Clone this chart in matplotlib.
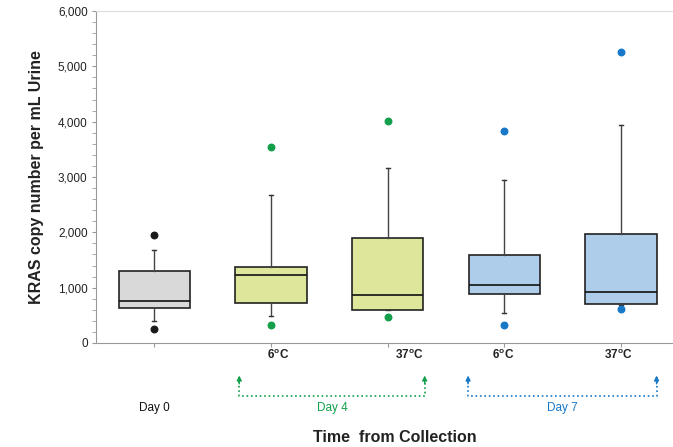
import matplotlib.pyplot as plt
import matplotlib.transforms as mtransforms
from matplotlib.ticker import MultipleLocator, FuncFormatter

plt.rcParams['font.family'] = ['Liberation Sans', 'DejaVu Sans']
plt.rcParams['mathtext.fontset'] = 'custom'
plt.rcParams['mathtext.rm'] = 'Liberation Sans'
plt.rcParams['mathtext.bf'] = 'Liberation Sans:bold'

# box statistics
groups = ['Day 0', 'Day 4 6C', 'Day 4 37C', 'Day 7 6C', 'Day 7 37C']
whislo = [403, 482, 600, 548, 680]
q1 = [638, 728, 602, 880, 711]
med = [765, 1223, 873, 1048, 922]
q3 = [1307, 1379, 1903, 1596, 1964]
whishi = [1680, 2675, 3168, 2940, 3940]
fliers = [[1946, 253], [3542, 320], [4012, 476], [3831, 331], [5259, 609]]
tick_labels = ['', r'6$^{\mathbf{o}}$C', r'37$^{\mathbf{o}}$C', r'6$^{\mathbf{o}}$C', r'37$^{\mathbf{o}}$C']
box_colors = ['#d9d9d9', '#dde69b', '#dde69b', '#aecdeb', '#aecdeb']
dot_colors = ['#1a1a1a', '#14a04a', '#14a04a', '#1878c8', '#1878c8']

fig = plt.figure(figsize=(6.73, 4.47), dpi=100)
ax = fig.add_axes([0.1426, 0.2327, 0.86, 0.7427])

stats = []
for i in range(len(groups)):
    stats.append(dict(label=groups[i], whislo=whislo[i], q1=q1[i], med=med[i],
                      q3=q3[i], whishi=whishi[i], fliers=fliers[i]))

pos = list(range(1, len(groups) + 1))
b = ax.bxp(stats, positions=pos, widths=0.61, patch_artist=True, showfliers=False,
           boxprops=dict(linewidth=1.2, edgecolor='#222222'),
           medianprops=dict(color='#111111', linewidth=1.2),
           whiskerprops=dict(color='#444444', linewidth=1.0),
           capprops=dict(color='#333333', linewidth=1.0), capwidths=0.035)
for patch, c in zip(b['boxes'], box_colors):
    patch.set_facecolor(c)
for i in range(len(groups)):
    ax.scatter([pos[i]] * len(fliers[i]), fliers[i], s=22, color=dot_colors[i], zorder=3)

ax.set_xlim(0.5, 5.46)
ax.set_ylim(0, 6000)
ax.yaxis.set_major_locator(MultipleLocator(1000))
ax.yaxis.set_minor_locator(MultipleLocator(200))
ax.yaxis.set_major_formatter(FuncFormatter(lambda v, p: '{:,.0f}'.format(v)))
ax.tick_params(axis='y', which='both', direction='out', length=3, color='#999999',
               labelsize=8.5, pad=3, labelcolor='#222222')
ax.tick_params(axis='x', direction='out', length=3, color='#999999')
ax.set_xticks(pos)
ax.set_xticklabels([])

for s in ['left', 'bottom']:
    ax.spines[s].set_color('#999999')
ax.spines['top'].set_color('#dddddd')
ax.spines['right'].set_visible(False)

ax.set_ylabel('KRAS copy number per mL Urine', fontsize=11.5, fontweight='bold',
              labelpad=10, color='#222222')

tr = mtransforms.blended_transform_factory(ax.transData, ax.transAxes)
label_x = [1, 2.06, 3.19, 3.99, 4.98]
for x, t in zip(label_x, tick_labels):
    ax.text(x, -0.038, t, transform=tr, ha='center', va='center', fontsize=8.5,
            fontweight='bold', color='#222222')

ax.text(1, -0.195, 'Day 0', transform=tr, ha='center', va='center', fontsize=8.5, color='#111111')


def bracket(x0, x1, color, label):
    y0, y1 = -0.16, -0.103
    ax.plot([x0, x0, x1, x1], [y1, y0, y0, y1], transform=tr, clip_on=False,
            color=color, linestyle=':', linewidth=1.2)
    for x in (x0, x1):
        ax.annotate('', xy=(x, y1 + 0.005), xytext=(x, y1 - 0.02), xycoords=tr, textcoords=tr,
                    arrowprops=dict(arrowstyle='-|>', color=color, lw=1.0,
                                    mutation_scale=7, shrinkA=0, shrinkB=0))
    ax.text((x0 + x1) / 2, -0.195, label, transform=tr, ha='center', va='center',
            fontsize=8.5, color=color)


bracket(1.728, 3.317, '#14a04a', 'Day 4')
bracket(3.689, 5.304, '#1878c8', 'Day 7')

ax.text(3.06, -0.285, 'Time  from Collection', transform=tr, ha='center', va='center',
        fontsize=11.5, fontweight='bold', color='#222222')

fig.savefig('out.png', dpi=100)
